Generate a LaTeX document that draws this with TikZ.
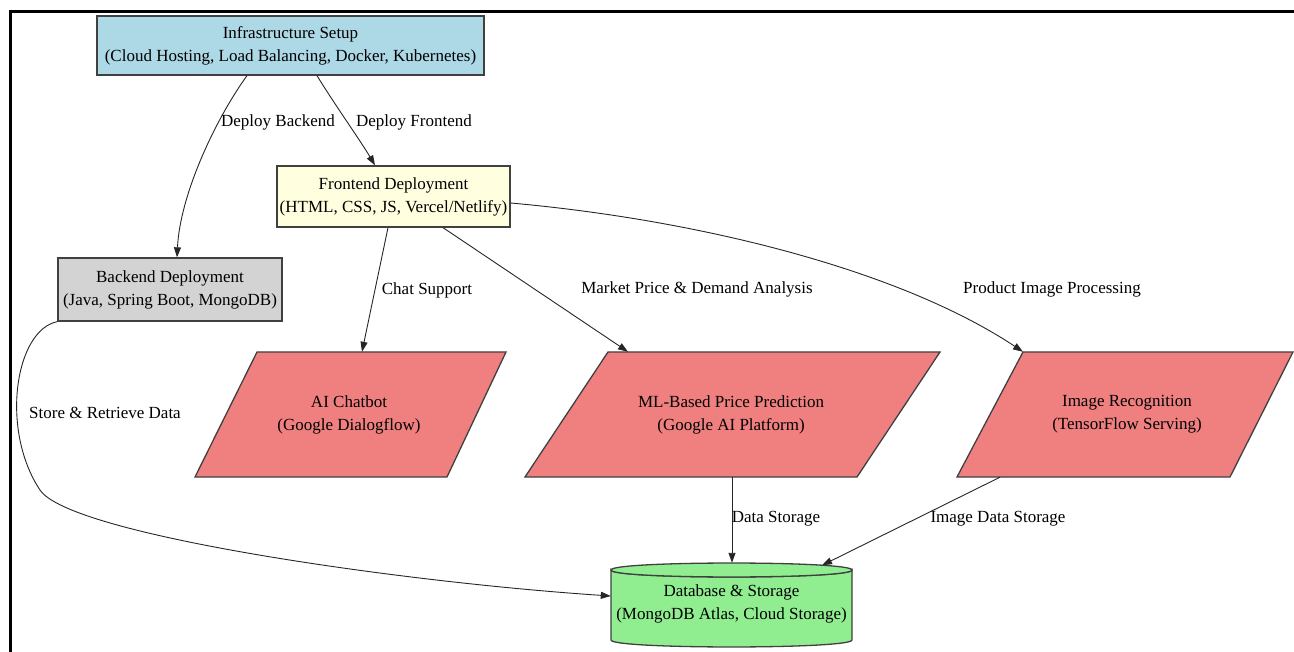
\documentclass[tikz,border=0pt]{standalone}
\usepackage{fontspec}
\setmainfont{Liberation Serif}
\usetikzlibrary{arrows.meta}
\definecolor{infrac}{HTML}{ADD8E6}
\definecolor{frontc}{HTML}{FFFFE0}
\definecolor{backc}{HTML}{D3D3D3}
\definecolor{aic}{HTML}{F08080}
\definecolor{dbc}{HTML}{90EE90}
\begin{document}
\begin{tikzpicture}[x=1pt,y=-1pt,
  every node/.style={font=\fontsize{17}{23}\selectfont, align=center, inner sep=0pt},
  box/.style={draw=black!75, line width=1.3pt},
  shapeline/.style={draw=black!75, line width=1.3pt},
  conn/.style={-{Triangle[length=10pt,width=7pt]}, line width=0.9pt, black!85},
  lbl/.style={}]
\useasboundingbox (0,0) rectangle (1294,652);
\draw[line width=3pt] (10,652) -- (10,12) -- (1294,12);

% rectangles
\node[box, fill=infrac, minimum width=387pt, minimum height=59pt] (infra) at (290.5,45.5)
  {Infrastructure Setup\\(Cloud Hosting, Load Balancing, Docker, Kubernetes)};
\node[box, fill=frontc, minimum width=233pt, minimum height=61pt] (front) at (393.5,196.5)
  {Frontend Deployment\\(HTML, CSS, JS, Vercel/Netlify)};
\node[box, fill=backc, minimum width=224pt, minimum height=63pt] (back) at (170,289.5)
  {Backend Deployment\\(Java, Spring Boot, MongoDB)};

% parallelograms
\filldraw[shapeline, fill=aic] (257,352) -- (506,352) -- (447,477) -- (195,477) -- cycle;
\node[minimum height=125pt] (chat) at (349,414.5) {AI Chatbot\\(Google Dialogflow)};
\filldraw[shapeline, fill=aic] (608,352) -- (940,352) -- (857,477) -- (525,477) -- cycle;
\node[minimum height=125pt] (ml) at (731,414.5) {ML-Based Price Prediction\\(Google AI Platform)};
\filldraw[shapeline, fill=aic] (1023,352) -- (1293,352) -- (1230,477) -- (957,477) -- cycle;
\node[minimum height=125pt] (img) at (1127,414.5) {Image Recognition\\(TensorFlow Serving)};

% cylinder
\filldraw[shapeline, fill=dbc] (611,570) -- (611,640) .. controls (611,649.3) and (852,649.3) .. (852,640)
  -- (852,570) .. controls (852,579.3) and (611,579.3) .. (611,570) -- cycle;
\filldraw[shapeline, fill=dbc] (611,570) .. controls (611,560.7) and (852,560.7) .. (852,570)
  .. controls (852,579.3) and (611,579.3) .. (611,570) -- cycle;
\node[minimum width=241pt, minimum height=82pt] (db) at (731.5,604)
  {Database \& Storage\\(MongoDB Atlas, Cloud Storage)};

% connectors
\draw[conn] ([xshift=-43.5pt]infra.south) .. controls (215,120) and (180,195) .. ([xshift=7pt]back.north);
\draw[conn] ([xshift=26.5pt]infra.south) .. controls (335,105) and (360,140) .. ([xshift=-18.5pt]front.north);
\draw[conn] ([xshift=-5.5pt]front.south) -- ([xshift=13pt]chat.north);
\draw[conn] ([xshift=49.5pt]front.south) -- ([xshift=-103pt]ml.north);
\draw[conn] ([yshift=-6.5pt]front.east) .. controls (700,220) and (900,270) .. ([xshift=-104pt]img.north);
\draw[conn] (back.south west) .. controls (15,330) and (0,430) .. (40,490)
  .. controls (70,535) and (400,582) .. ([yshift=8pt]db.west);
\draw[conn] ([xshift=1pt]ml.south) -- ([xshift=0.5pt]db.north);
\draw[conn] ([xshift=-127pt]img.south) -- ([xshift=90.5pt,yshift=-2.5pt]db.north);

% labels
\node[lbl] (l1) at (278,122) {Deploy Backend};
\node[lbl] (l2) at (414,122) {Deploy Frontend};
\node[lbl] (l3) at (427,290) {Chat Support};
\node[lbl] (l4) at (697,289) {Market Price \& Demand Analysis};
\node[lbl] (l5) at (1052,289) {Product Image Processing};
\node[lbl] (l6) at (105,413) {Store \& Retrieve Data};
\node[lbl] (l7) at (776,519) {Data Storage};
\node[lbl] (l8) at (998,519) {Image Data Storage};
\end{tikzpicture}
\end{document}
